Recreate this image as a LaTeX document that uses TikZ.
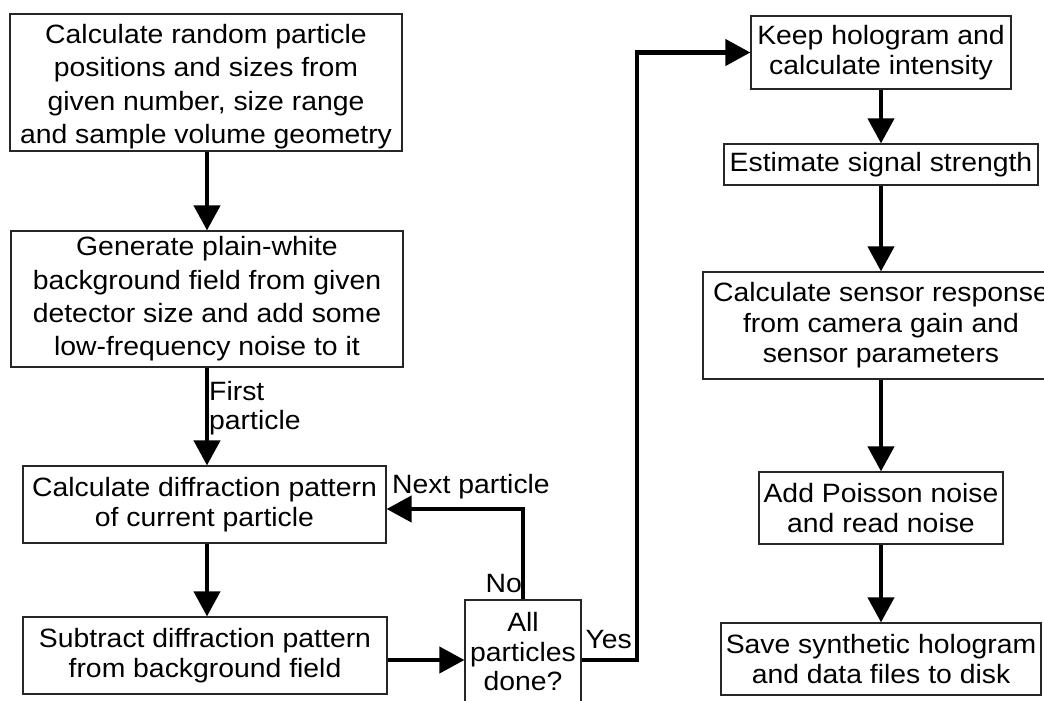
\documentclass[tikz,border=0pt]{standalone}
\usepackage{fontspec}
\setmainfont{Liberation Sans}[FakeStretch=1.07]
\usetikzlibrary{arrows.meta}
\newcommand\dfont{\fontsize{26.5}{33.4}\selectfont}
\newcommand\dfontb{\fontsize{26.5}{30.5}\selectfont}
\begin{document}
\begin{tikzpicture}[x=1pt,y=-1pt,
  box/.style={draw=black!85, line width=1.2pt, fill=white, align=center, inner sep=0pt, font=\dfont},
  lbl/.style={inner sep=0pt, font=\dfont},
  flow/.style={line width=4.2pt, -{Triangle[length=25pt,width=26pt]}}]
\useasboundingbox (0,0) rectangle (1044,701);
\clip (0,0) rectangle (1044,701);
\fill[white] (0,0) rectangle (1044,701);
% left column
\node[box, minimum width=392pt, minimum height=137pt] (b1) at (206,82.5) {\rule{0pt}{27.4pt}Calculate random particle\\positions and sizes from\\given number, size range\\and sample volume geometry};
\node[box, minimum width=392pt, minimum height=136pt] (b2) at (207,299) {Generate plain-white\\background field from given\\detector size and add some\\low-frequency noise to it};
\node[box, minimum width=363pt, minimum height=77pt, font=\dfontb] (b3) at (204.5,504.5) {Calculate diffraction pattern\\of current particle};
\node[box, minimum width=364pt, minimum height=77pt, font=\dfontb] (b4) at (205,655.5) {Subtract diffraction pattern\\from background field};
\node[box, minimum width=116pt, minimum height=104pt, font=\fontsize{26.5}{29.5}\selectfont] (dec) at (523,652) {All\\particles\\done?};
% right column
\node[box, minimum width=260pt, minimum height=73pt, font=\dfontb] (keep) at (881,52.5) {Keep hologram and\\calculate intensity};
\node[box, minimum width=314pt, minimum height=41pt] (est) at (881,164.5) {Estimate signal strength};
\node[box, minimum width=356pt, minimum height=107pt, font=\dfontb] (sens) at (881,325.5) {Calculate sensor response\\from camera gain and\\sensor parameters};
\node[box, minimum width=244pt, minimum height=72pt, font=\dfontb] (pois) at (881,508) {Add Poisson noise\\and read noise};
\node[box, minimum width=320pt, minimum height=72pt, font=\dfontb] (save) at (881,659) {Save synthetic hologram\\and data files to disk};
% helper coordinates
\coordinate (jy) at (0,660);
\coordinate (ny) at (0,509);
\coordinate (yc) at (637,660);
% connectors
\draw[flow] (b1.south -| 207,0) -- (b2.north -| 207,0);
\draw[flow] (b2.south -| 207,0) -- (b3.north -| 207,0);
\draw[flow] (b3.south -| 207,0) -- (b4.north -| 207,0);
\draw[flow] (b4.east |- jy) -- (dec.west |- jy);
\draw[flow] (dec.north) -- (dec.north |- ny) -- (b3.east |- ny);
\draw[flow] (dec.east |- jy) -- (yc) |- (keep.west);
\draw[flow] (keep.south) -- (est.north);
\draw[flow] (est.south) -- (sens.north);
\draw[flow] (sens.south) -- (pois.north);
\draw[flow] (pois.south) -- (save.north);
% labels
\node[lbl, anchor=north west, align=left, font=\fontsize{26.5}{29}\selectfont] (lfirst) at (209,381) {First\\particle};
\node[lbl, anchor=base west] (lnext) at (392,493) {Next particle};
\node[lbl, anchor=base east] (lno) at (522,592) {No};
\node[lbl, anchor=base east] (lyes) at (632,648) {Yes};
\end{tikzpicture}
\end{document}
